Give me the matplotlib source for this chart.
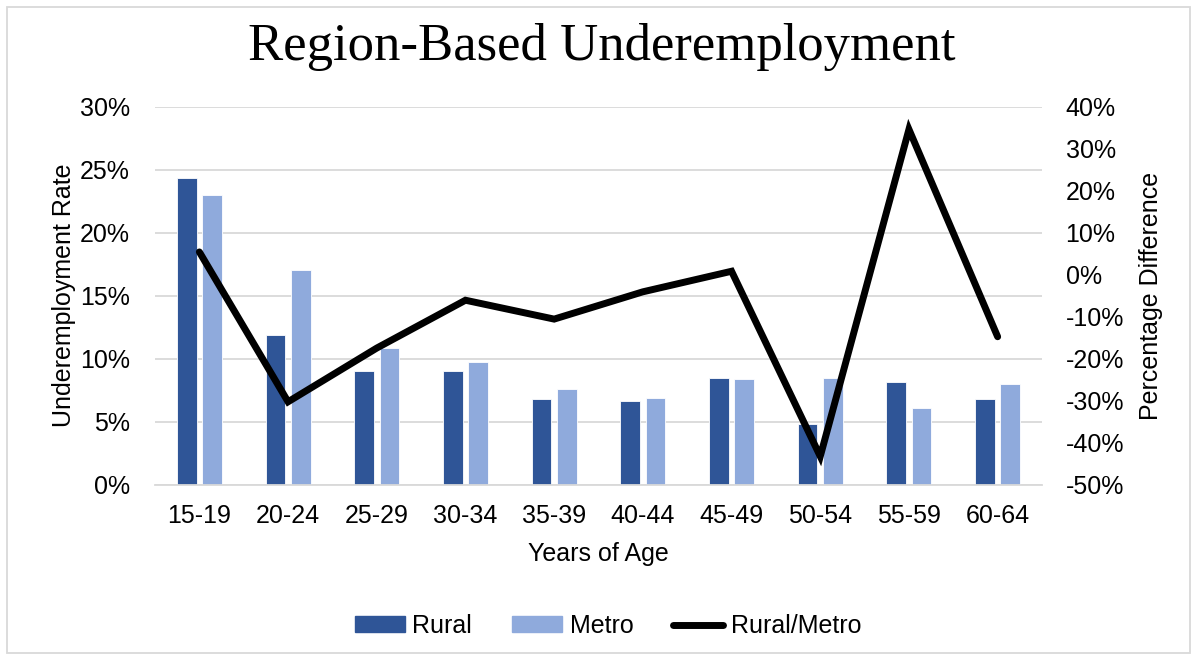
import matplotlib
matplotlib.use("Agg")
import matplotlib.pyplot as plt
from matplotlib.patches import Rectangle
from matplotlib.lines import Line2D
from matplotlib.ticker import FuncFormatter
import numpy as np

categories = ["15-19", "20-24", "25-29", "30-34", "35-39", "40-44", "45-49", "50-54", "55-59", "60-64"]
rural = [24.3, 11.9, 9.0, 9.05, 6.8, 6.6, 8.45, 4.8, 8.1, 6.8]
metro = [23.0, 17.0, 10.85, 9.7, 7.6, 6.9, 8.4, 8.45, 6.05, 7.95]
ratio_diff = [5.4, -30.3, -17.5, -6.1, -10.6, -4.1, 0.8, -43.3, 34.6, -14.8]

left_ticks = [0, 5, 10, 15, 20, 25, 30]
right_ticks = [-50, -40, -30, -20, -10, 0, 10, 20, 30, 40]

C_RURAL = "#2f5597"
C_METRO = "#8faadc"
GRID = "#d9d9d9"
FS = 18

plt.rcParams["font.family"] = ["Liberation Sans", "DejaVu Sans"]

fig = plt.figure(figsize=(11.97, 6.6), dpi=100)
fig.patches.append(Rectangle((7 / 1197, 7 / 660), 1 - 14 / 1197, 1 - 14 / 660,
                             transform=fig.transFigure, fill=False,
                             edgecolor=GRID, linewidth=1.3, zorder=0))

ax = fig.add_axes([155 / 1197, 1 - 484.5 / 660, (1042 - 155) / 1197, (484.5 - 106.7) / 660])
x = np.arange(len(categories))
w = 0.222
off = 0.143
ax.bar(x - off, rural, width=w, color=C_RURAL, edgecolor="white", linewidth=0.6, zorder=2, label="Rural")
ax.bar(x + off, metro, width=w, color=C_METRO, edgecolor="white", linewidth=0.6, zorder=2, label="Metro")
ax.set_xlim(-0.5, len(categories) - 0.5)
ax.set_ylim(0, 30)
ax.set_yticks(left_ticks)
ax.yaxis.set_major_formatter(FuncFormatter(lambda v, p: f"{v:.0f}%"))
ax.set_xticks(x)
ax.set_xticklabels(categories)
ax.grid(axis="y", color=GRID, linewidth=1.3, zorder=0)
ax.set_axisbelow(True)
for s in ["top", "right", "left"]:
    ax.spines[s].set_visible(False)
ax.spines["bottom"].set_color(GRID)
ax.spines["bottom"].set_linewidth(1.3)
ax.tick_params(axis="both", length=0, labelsize=FS, colors="black")
ax.tick_params(axis="y", pad=18)
ax.tick_params(axis="x", pad=14)
ax.set_ylabel("Underemployment Rate", fontsize=FS, labelpad=3)
ax.set_xlabel("Years of Age", fontsize=FS, labelpad=10)

ax2 = ax.twinx()
ax2.plot(x, ratio_diff, color="black", linewidth=5, solid_joinstyle="miter",
         solid_capstyle="round", zorder=3)
ax2.set_ylim(-50, 40)
ax2.set_yticks(right_ticks)
ax2.yaxis.set_major_formatter(FuncFormatter(lambda v, p: f"{v:.0f}%"))
for s in ["top", "right", "left", "bottom"]:
    ax2.spines[s].set_visible(False)
ax2.tick_params(axis="y", length=0, labelsize=FS, pad=17)
ax2.set_ylabel("Percentage Difference", fontsize=FS, rotation=90, labelpad=11)

fig.text(0.503, 1 - 47 / 660, "Region-Based Underemployment", ha="center", va="center",
         fontsize=38, family=["Liberation Serif", "DejaVu Serif"])

handles = [Rectangle((0, 0), 1, 1, color=C_RURAL),
           Rectangle((0, 0), 1, 1, color=C_METRO),
           Line2D([0], [0], color="black", linewidth=5, solid_capstyle="round")]
fig.legend(handles, ["Rural", "Metro", "Rural/Metro"], loc="center",
           bbox_to_anchor=(0.508, 1 - 626 / 660), ncol=3, frameon=False,
           fontsize=FS, handlelength=2.0, handleheight=0.6, handletextpad=0.3,
           columnspacing=1.6)

fig.savefig("out.png", dpi=100)
